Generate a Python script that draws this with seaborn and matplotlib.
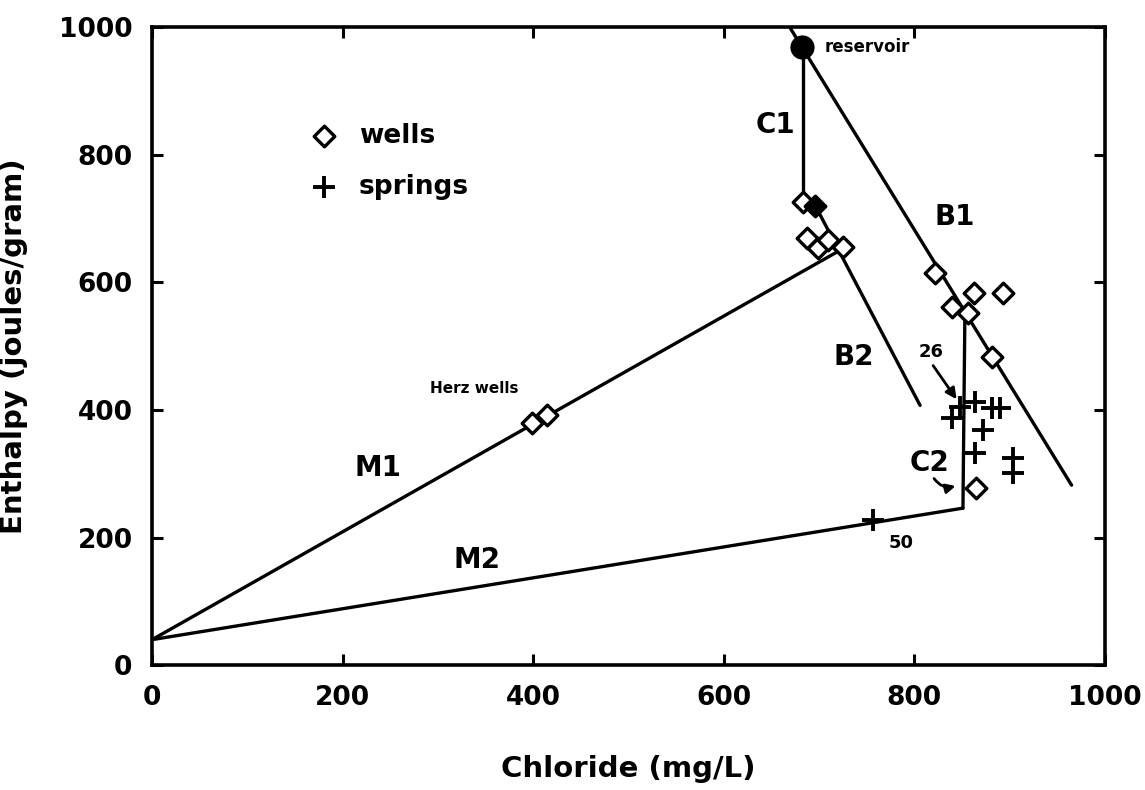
import matplotlib
matplotlib.use("Agg")
import matplotlib.pyplot as plt
import seaborn as sns
import pandas as pd

# ---------------- data ----------------
wells_x = [683, 687, 699, 709, 725, 822, 863, 893, 839, 856, 881, 865, 399, 414]
wells_y = [726, 669, 654, 666, 655, 614, 583, 583, 561, 551, 483, 277, 379, 392]
wells_filled_x = [696]
wells_filled_y = [720]
springs_x = [839, 848, 864, 882, 890, 872, 864, 904, 904, 757]
springs_y = [387, 404, 413, 403, 403, 368, 332, 324, 301, 227]
reservoir_x = [682]
reservoir_y = [968]

line_names = ["B1", "B1", "C1", "C1", "B2", "B2", "M1", "M1", "M2", "M2", "C2", "C2"]
line_x = [669, 965, 683, 683, 696, 806, 0, 722, 0, 851, 851, 853]
line_y = [1000, 282, 968, 735, 720, 407, 40, 650, 40, 246, 246, 545]

x_ticks = [0, 200, 400, 600, 800, 1000]
y_ticks = [0, 200, 400, 600, 800, 1000]

# ---------------- plot ----------------
sns.set_theme(style="ticks")
plt.rcParams["font.family"] = ["DejaVu Sans"]
plt.rcParams["font.weight"] = "bold"
plt.rcParams["text.color"] = "black"
plt.rcParams["axes.labelcolor"] = "black"
plt.rcParams["xtick.color"] = "black"
plt.rcParams["ytick.color"] = "black"

fig = plt.figure(figsize=(11.45, 7.9), dpi=100)
ax = fig.add_axes([0.1328, 0.158, 0.8322, 0.808])

lines_df = pd.DataFrame({"line": line_names, "x": line_x, "y": line_y})
sns.lineplot(data=lines_df, x="x", y="y", units="line", estimator=None,
             sort=False, color="black", linewidth=2.4, ax=ax, legend=False)

wells_df = pd.DataFrame({"x": wells_x, "y": wells_y})
springs_df = pd.DataFrame({"x": springs_x, "y": springs_y})
sns.scatterplot(data=wells_df, x="x", y="y", marker="D", s=110,
                facecolor="white", edgecolor="black", linewidth=2.4,
                ax=ax, label="wells", zorder=3)
sns.scatterplot(x=wells_filled_x, y=wells_filled_y, marker="D", s=110,
                color="black", edgecolor="black", linewidth=2.4, ax=ax, zorder=3)
sns.scatterplot(data=springs_df, x="x", y="y", marker="+", s=260,
                color="black", linewidth=2.8, ax=ax, label="springs", zorder=3)
sns.scatterplot(x=reservoir_x, y=reservoir_y, marker="o", s=260,
                color="black", edgecolor="black", ax=ax, zorder=4)

ax.set_xlim(0, 1000)
ax.set_ylim(0, 1000)
ax.set_xticks(x_ticks)
ax.set_yticks(y_ticks)
ax.set_xticklabels([str(t) for t in x_ticks], fontsize=19, fontweight="bold")
ax.set_yticklabels([str(t) for t in y_ticks], fontsize=19, fontweight="bold")
ax.tick_params(direction="in", length=8, width=2.2, top=True, right=True,
               labeltop=False, labelright=False, pad=14, colors="black")
for sp in ax.spines.values():
    sp.set_visible(True)
    sp.set_linewidth(2.6)
    sp.set_color("black")

ax.set_xlabel("Chloride (mg/L)", fontsize=21, fontweight="bold", labelpad=32)
ax.set_ylabel("Enthalpy (joules/gram)", fontsize=21, fontweight="bold", labelpad=22)

leg = ax.legend(loc="upper left", bbox_to_anchor=(0.142, 0.866), frameon=False,
                prop={"size": 19, "weight": "bold"}, handletextpad=0.3,
                labelspacing=0.95, markerscale=1.0, borderaxespad=0)
for t in leg.get_texts():
    t.set_color("black")

# annotations
lab = dict(fontsize=20, fontweight="bold", ha="center", va="center", color="black")
ax.text(654, 846, "C1", **lab)
ax.text(842, 702, "B1", **lab)
ax.text(736, 483, "B2", **lab)
ax.text(237, 309, "M1", **lab)
ax.text(341, 165, "M2", **lab)
ax.text(816, 317, "C2", **lab)
ax.text(706, 968, "reservoir", fontsize=12, fontweight="bold", ha="left", va="center")
ax.text(338, 434, "Herz wells", fontsize=11, fontweight="bold", ha="center", va="center")
ax.text(818, 491, "26", fontsize=13, fontweight="bold", ha="center", va="center")
ax.text(786, 191, "50", fontsize=13, fontweight="bold", ha="center", va="center")

ax.annotate("", xy=(846, 413), xytext=(818, 473),
            arrowprops=dict(arrowstyle="-|>", color="black", lw=2, mutation_scale=16))
ax.annotate("", xy=(846, 282), xytext=(819, 296),
            arrowprops=dict(arrowstyle="-|>", color="black", lw=2, mutation_scale=14,
                            connectionstyle="arc3,rad=0.4"))

fig.savefig("out.png", dpi=100, facecolor="white")
